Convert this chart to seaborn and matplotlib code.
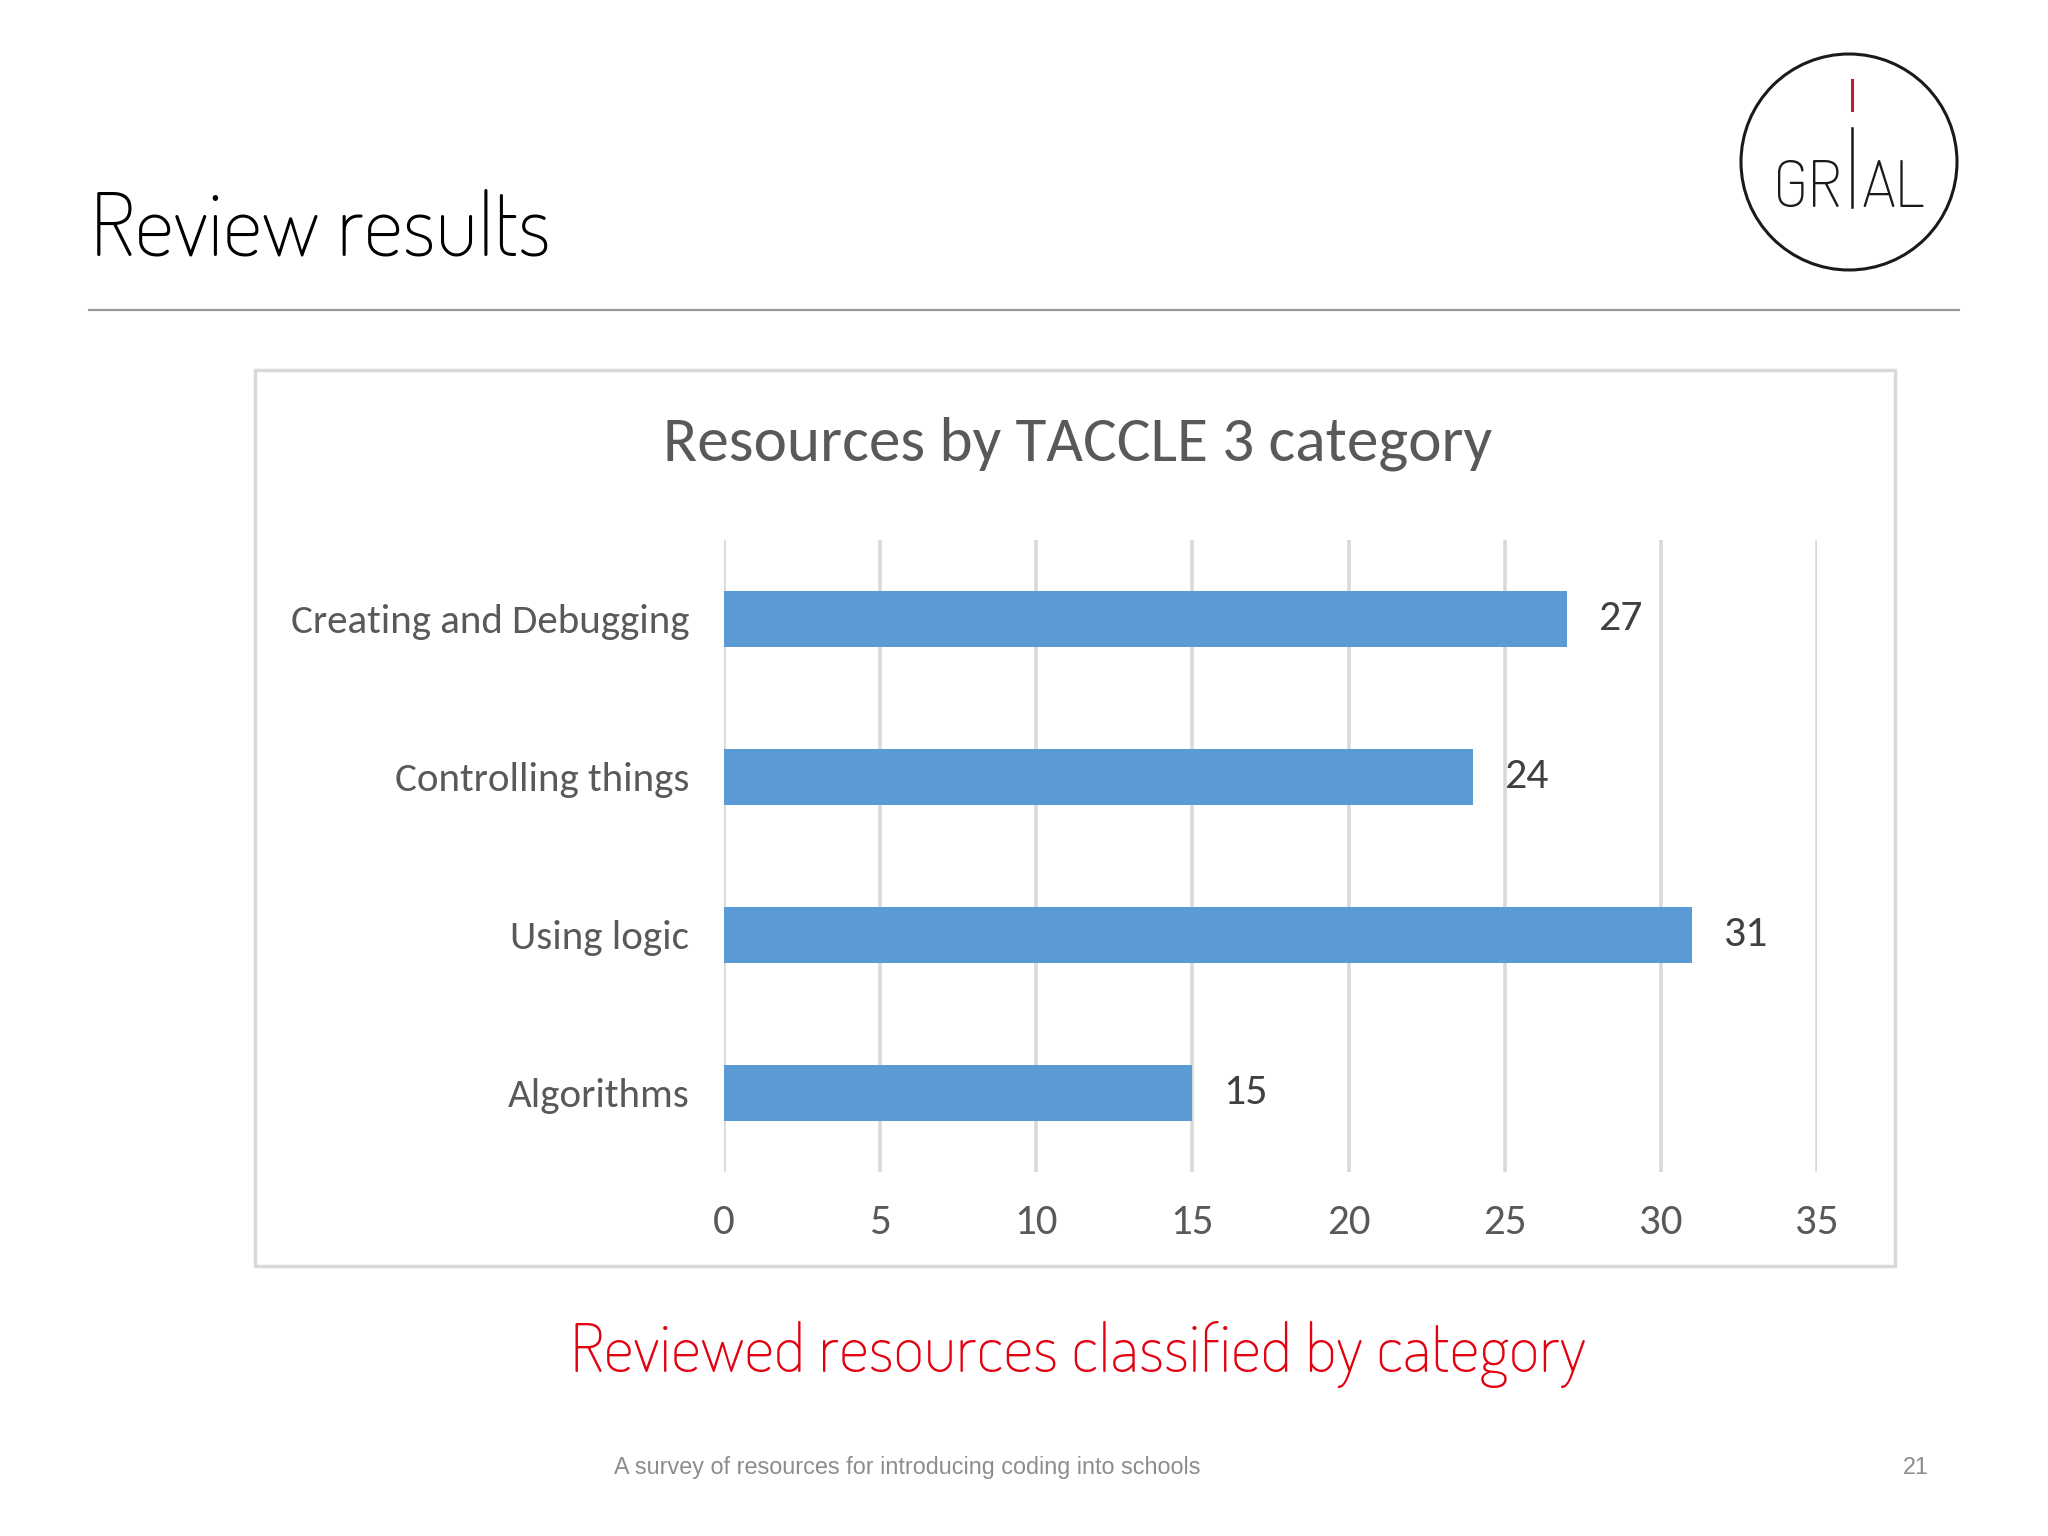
import matplotlib.pyplot as plt
import matplotlib.patches as mpatches
import seaborn as sns
import pandas as pd

categories = ['Creating and Debugging', 'Controlling things', 'Using logic', 'Algorithms']
counts = [27, 24, 31, 15]
x_ticks = [0, 5, 10, 15, 20, 25, 30, 35]

df = pd.DataFrame({'category': categories, 'resources': counts})

plt.rcParams['font.family'] = ['Carlito', 'DejaVu Sans']
slide_font = ['Dosis', 'DejaVu Sans']

fig = plt.figure(figsize=(20.48, 15.36), dpi=100)

# slide decorations drawn in pixel coordinates on a background axes
bg = fig.add_axes([0, 0, 1, 1])
bg.set_xlim(0, 2048)
bg.set_ylim(1536, 0)
bg.axis('off')

bg.text(90, 256, 'Review results', fontsize=63, color='black',
        family=slide_font, va='baseline')
bg.plot([89, 1959], [310, 310], color='#9a9a9a', lw=1.6)

# logo
bg.add_patch(mpatches.Circle((1849, 162), 108, fill=False, ec='#1a1a1a', lw=2.2))
bg.plot([1852, 1852], [128, 207], color='#1a1a1a', lw=1.8)
bg.plot([1852, 1852], [80, 110], color='#c0202e', lw=2.2)
bg.text(1841, 207, 'GR', fontsize=47, color='#1a1a1a', ha='right', va='baseline',
        family=slide_font)
bg.text(1861, 207, 'AL', fontsize=47, color='#1a1a1a', ha='left', va='baseline',
        family=slide_font)

# chart frame
bg.add_patch(mpatches.Rectangle((255, 370), 1640, 896, fill=False, ec='#d9d9d9', lw=2.5))
bg.text(1078, 444, 'Resources by TACCLE 3 category', fontsize=45.5, color='#595959',
        ha='center', va='center')

bg.text(1078, 1372, 'Reviewed resources classified by category', fontsize=48,
        color='#e3000f', ha='center', va='baseline', family=slide_font)
bg.text(614, 1474, 'A survey of resources for introducing coding into schools',
        fontsize=16.8, color='#8c8c8c', ha='left', va='baseline', family='Liberation Sans')
bg.text(1929, 1474, '21', fontsize=16.8, color='#8c8c8c', ha='right', va='baseline',
        family='Liberation Sans')

ax = fig.add_axes([724 / 2048, 1 - 1172 / 1536, (1817 - 724) / 2048, (1172 - 540) / 1536])
sns.barplot(data=df, x='resources', y='category', orient='h', color='#5b9bd5',
            saturation=1, width=0.36, ax=ax, zorder=3)
ax.set_xlim(0, 35)
ax.set_ylim(3.5, -0.5)
ax.set_xticks(x_ticks)
ax.grid(axis='x', color='#d9d9d9', lw=2.6, zorder=0)
ax.set_axisbelow(True)
for s in ax.spines.values():
    s.set_visible(False)
ax.set_xlabel('')
ax.set_ylabel('')
ax.tick_params(axis='both', length=0, labelcolor='#595959')
ax.tick_params(axis='y', pad=25, labelsize=29.5)
ax.tick_params(axis='x', pad=23, labelsize=31)
ax.bar_label(ax.containers[0], padding=22, fontsize=31.5, color='#404040')
ax.patch.set_alpha(0)

fig.savefig('out.png', dpi=100)
